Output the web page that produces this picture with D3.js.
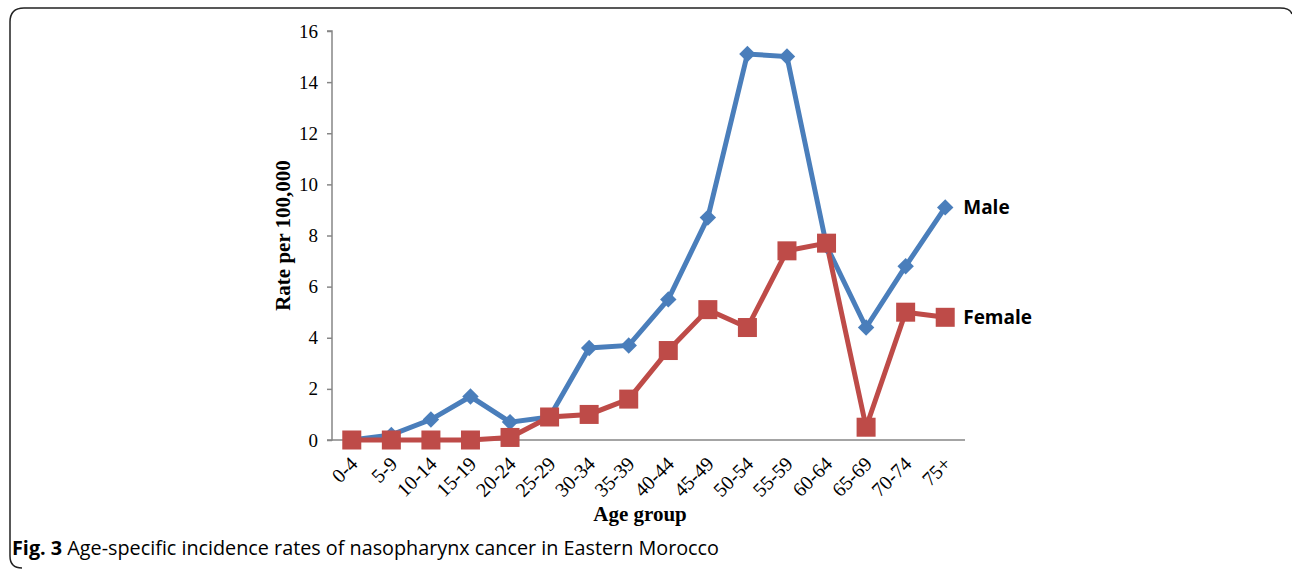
<!DOCTYPE html>
<html>
<head>
<meta charset="utf-8">
<script src="https://cdn.jsdelivr.net/npm/d3@7"></script>
<style>
  body { margin: 0; background: #fff; }
  .axis text { font-family: "Liberation Serif", "Times New Roman", serif; font-size: 19px; fill: #000; }
  .x_axis text { font-size: 20px; }
  .axis path, .axis line { stroke: #868686; stroke-width: 1.5; }
  .axis_title { font-family: "Liberation Serif", serif; font-weight: bold; font-size: 21px; }
  .series_label { font-family: "Open Sans", sans-serif; font-weight: bold; font-size: 19px; }
  .caption { font-family: "Open Sans", sans-serif; font-size: 19.8px; }
</style>
</head>
<body>
<div id="linechart"></div>
<script>
// values
var ageGroups = ["0-4","5-9","10-14","15-19","20-24","25-29","30-34","35-39","40-44","45-49","50-54","55-59","60-64","65-69","70-74","75+"];
var maleRates   = [0, 0.2, 0.8, 1.7, 0.7, 0.9, 3.6, 3.7, 5.5, 8.7, 15.1, 15.0, 7.6, 4.4, 6.8, 9.1];
var femaleRates = [0, 0, 0, 0, 0.1, 0.9, 1.0, 1.6, 3.5, 5.1, 4.4, 7.4, 7.7, 0.5, 5.0, 4.8];
var yTicks = [0, 2, 4, 6, 8, 10, 12, 14, 16];

var W = 1292, H = 569;
var margin = {left: 332, top: 31};
var width = 633, height = 409;

var svg = d3.select("#linechart")
            .append("svg")
            .attr("width", W)
            .attr("height", H);

// frame with rounded corners
svg.append("path")
   .attr("d", "M22,568 Q10,568 10,556 L10,22 Q10,8 24,8 L1280,8 Q1290,8 1292,14")
   .attr("fill", "none")
   .attr("stroke", "#222")
   .attr("stroke-width", 1.5);

var g = svg.append("g")
           .attr("transform", "translate(" + margin.left + "," + margin.top + ")");

var x = d3.scaleBand().domain(ageGroups).range([0, width]);
var y = d3.scaleLinear().domain([0, 16]).range([height, 0]);

function cx(d, i) { return x(ageGroups[i]) + x.bandwidth() / 2; }

// y axis
g.append("g")
 .attr("class", "axis y_axis")
 .call(d3.axisLeft(y).tickValues(yTicks).tickSize(5).tickPadding(9))
 .call(function(a) { a.select(".domain").attr("d", "M-5,0H0V" + height + "H-5"); });

// x axis
var xa = g.append("g")
 .attr("class", "axis x_axis")
 .attr("transform", "translate(0," + height + ")")
 .call(d3.axisBottom(x).tickSize(0).tickSizeOuter(0));
xa.select(".domain").attr("d", "M0,0H" + width);
xa.selectAll(".tick text")
  .attr("text-anchor", "end")
  .attr("dy", null)
  .attr("transform", "translate(5,23) rotate(-45)");

var blue = "#4a7ebb", red = "#be4b48";

var line = d3.line().x(cx).y(function(d) { return y(d); });

g.append("path").datum(maleRates)
 .attr("d", line).attr("fill", "none").attr("stroke", blue).attr("stroke-width", 5);

g.append("path").datum(femaleRates)
 .attr("d", line).attr("fill", "none").attr("stroke", red).attr("stroke-width", 5);

// male diamonds
g.append("g").selectAll("path")
 .data(maleRates).enter().append("path")
 .attr("d", d3.symbol().type(d3.symbolSquare).size(135))
 .attr("transform", function(d, i) { return "translate(" + cx(d, i) + "," + y(d) + ") rotate(45)"; })
 .attr("fill", blue);

// female squares
g.append("g").selectAll("rect")
 .data(femaleRates).enter().append("rect")
 .attr("x", function(d, i) { return cx(d, i) - 9.5; })
 .attr("y", function(d) { return y(d) - 9.5; })
 .attr("width", 19).attr("height", 19)
 .attr("fill", red);

// series labels
g.append("text").attr("class", "series_label")
 .attr("x", cx(0, 15) + 18).attr("y", y(maleRates[15]) + 7).text("Male");
g.append("text").attr("class", "series_label")
 .attr("x", cx(0, 15) + 18).attr("y", y(femaleRates[15]) + 7).text("Female");

// axis titles
svg.append("text").attr("class", "axis_title")
   .attr("text-anchor", "middle")
   .attr("transform", "translate(290," + (margin.top + height / 2) + ") rotate(-90)")
   .text("Rate per 100,000");

svg.append("text").attr("class", "axis_title")
   .attr("text-anchor", "middle")
   .attr("x", 640).attr("y", 521)
   .text("Age group");

// caption
var cap = svg.append("text").attr("class", "caption").attr("x", 12).attr("y", 555);
cap.append("tspan").attr("font-weight", "bold").text("Fig. 3");
cap.append("tspan").text(" Age-specific incidence rates of nasopharynx cancer in Eastern Morocco");
</script>
</body>
</html>
